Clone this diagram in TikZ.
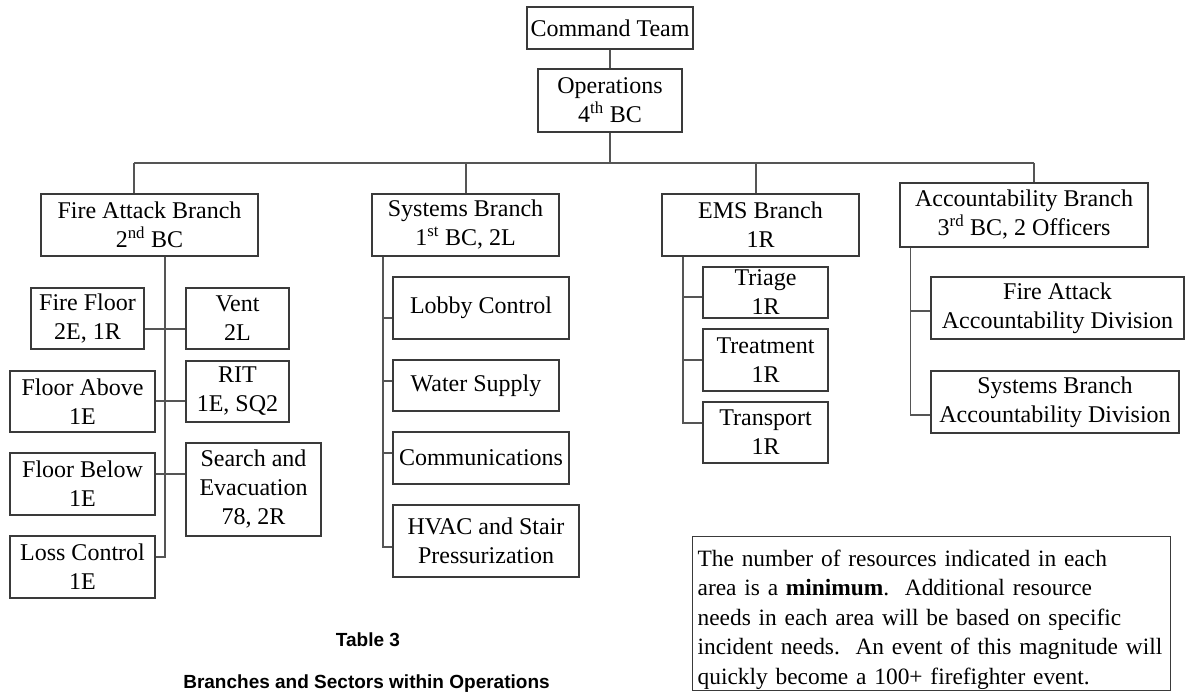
\documentclass[tikz,border=0pt]{standalone}
\usepackage{fontspec}
\setmainfont{Liberation Serif}
\setsansfont{Liberation Sans}
\definecolor{boxc}{HTML}{3A3A3A}
\definecolor{linec}{HTML}{555555}
\tikzset{
  unit/.style={draw=boxc, line width=1.2pt, inner sep=0pt, align=center,
    font=\fontsize{24}{29}\selectfont},
  link/.style={draw=linec, line width=1.2pt},
  notebox/.style={draw=boxc, line width=1.2pt, inner xsep=5pt, inner ysep=0pt,
    align=left, font=\fontsize{23.4}{29.5}\selectfont},
  caption/.style={inner sep=0pt, font=\sffamily\bfseries\fontsize{19}{22}\selectfont}
}
\begin{document}
\begin{tikzpicture}[x=1pt,y=-1pt]
\clip (0,0) rectangle (1185,692);
\fill[white] (0,0) rectangle (1185,692);

% top of the chart
\node[unit, minimum width=166, minimum height=42] (cmd) at (610,28) {Command Team};
\node[unit, minimum width=144, minimum height=63] (ops) at (610,100.5) {Operations\\4\textsuperscript{th} BC};

% branches
\node[unit, minimum width=217, minimum height=62] (fab) at (149.5,225) {Fire Attack Branch\\2\textsuperscript{nd} BC};
\node[unit, minimum width=187, minimum height=62] (sys) at (465.5,225) {Systems Branch\\1\textsuperscript{st} BC, 2L};
\node[unit, minimum width=197, minimum height=62] (ems) at (760.5,225) {EMS Branch\\1R};
\node[unit, minimum width=248, minimum height=64] (acc) at (1024,215) {Accountability Branch\\3\textsuperscript{rd} BC, 2 Officers};

% fire attack sectors
\node[unit, minimum width=113, minimum height=61] (ff) at (87.5,318.5) {Fire Floor\\2E, 1R};
\node[unit, minimum width=103, minimum height=61] (vent) at (237.5,318.5) {Vent\\2L};
\node[unit, minimum width=145, minimum height=61] (fa) at (82.5,401.5) {Floor Above\\1E};
\node[unit, minimum width=103, minimum height=61] (rit) at (237.5,391.5) {RIT\\1E, SQ2};
\node[unit, minimum width=145, minimum height=62] (fb) at (82.5,484) {Floor Below\\1E};
\node[unit, minimum width=135, minimum height=93] (se) at (253.5,489.5) {Search and\\Evacuation\\78, 2R};
\node[unit, minimum width=145, minimum height=62] (lc) at (82.5,567) {Loss Control\\1E};

% systems sectors
\node[unit, minimum width=176, minimum height=62] (lobby) at (481,308) {Lobby Control};
\node[unit, minimum width=166, minimum height=51] (water) at (476,385.5) {Water Supply};
\node[unit, minimum width=176, minimum height=52] (comm) at (481,458) {Communications};
\node[unit, minimum width=186, minimum height=72] (hvac) at (486,541) {HVAC and Stair\\Pressurization};

% EMS sectors
\node[unit, minimum width=125, minimum height=51] (tri) at (765.5,292.5) {Triage\\1R};
\node[unit, minimum width=125, minimum height=62] (treat) at (765.5,360) {Treatment\\1R};
\node[unit, minimum width=125, minimum height=61] (trans) at (765.5,432.5) {Transport\\1R};

% accountability divisions
\node[unit, minimum width=253, minimum height=62] (faad) at (1057.5,308) {Fire Attack\\Accountability Division};
\node[unit, minimum width=248, minimum height=62] (sbad) at (1055,402) {Systems Branch\\Accountability Division};

% note and caption
\node[notebox, anchor=north west, text width=468] (note) at (692,536)
 {\rule{0pt}{29.5pt}The number of resources indicated in each\\
  area is a \textbf{minimum}.\ \ Additional resource\\
  needs in each area will be based on specific\\
  incident needs.\ \ An event of this magnitude will\\
  quickly become a 100+ firefighter event.\rule[-6.5pt]{0pt}{6.5pt}};
\node[caption, anchor=base] (tab) at (368,646) {Table 3};
\node[caption, anchor=base] (tabtitle) at (366.5,688.5) {Branches and Sectors within Operations};

% connectors: command line and bus
\coordinate (busL) at (134,163);
\coordinate (busR) at (1034,163);
\coordinate (dS) at (466,163);
\coordinate (dE) at (756,163);
\draw[link] (cmd) -- (ops);
\draw[link] (ops.south) -- (ops.south |- busL);
\draw[link] (busL) -- (busR);
\draw[link] (busL) -- (busL |- fab.north);
\draw[link] (dS) -- (dS |- sys.north);
\draw[link] (dE) -- (dE |- ems.north);
\draw[link] (busR) -- (busR |- acc.north);

% fire attack spine
\coordinate (faEnd) at (165,557);
\coordinate (fa1) at (165,329);
\coordinate (fa2) at (165,401);
\coordinate (fa3) at (165,474);
\draw[link] (faEnd |- fab.south) -- (faEnd) -- (lc.east |- faEnd);
\draw[link] (ff.east |- fa1) -- (vent.west |- fa1);
\draw[link] (fa.east |- fa2) -- (rit.west |- fa2);
\draw[link] (fb.east |- fa3) -- (se.west |- fa3);

% systems spine
\coordinate (syEnd) at (383,547);
\coordinate (sy1) at (383,318);
\coordinate (sy2) at (383,381);
\coordinate (sy3) at (383,453);
\draw[link] (syEnd |- sys.south) -- (syEnd) -- (hvac.west |- syEnd);
\draw[link] (sy1) -- (lobby.west |- sy1);
\draw[link] (sy2) -- (water.west |- sy2);
\draw[link] (sy3) -- (comm.west |- sy3);

% EMS spine
\coordinate (emEnd) at (683,423);
\coordinate (em1) at (683,297);
\coordinate (em2) at (683,360);
\draw[link] (emEnd |- ems.south) -- (emEnd) -- (trans.west |- emEnd);
\draw[link] (em1) -- (tri.west |- em1);
\draw[link] (em2) -- (treat.west |- em2);

% accountability spine
\coordinate (acEnd) at (910.5,415);
\coordinate (ac1) at (910.5,311);
\draw[link] (acEnd |- acc.south) -- (acEnd) -- (sbad.west |- acEnd);
\draw[link] (ac1) -- (faad.west |- ac1);
\end{tikzpicture}
\end{document}
